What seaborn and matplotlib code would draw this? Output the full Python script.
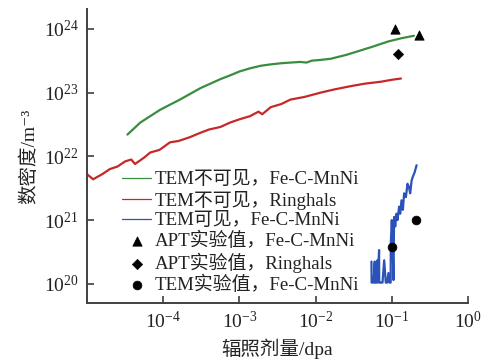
import numpy as np
import pandas as pd
import matplotlib
matplotlib.use("Agg")
import matplotlib.pyplot as plt
import seaborn as sns

# ---- data (log10 values) ----
green_logx = [-4.47, -4.30, -4.04, -3.78, -3.51, -3.38, -3.25, -3.12, -3.00, -2.86, -2.72, -2.60,
              -2.45, -2.33, -2.20, -2.12, -2.05, -1.95, -1.80, -1.60, -1.41, -1.25, -1.05,
              -0.88, -0.71]
green_logy = [22.34, 22.53, 22.73, 22.89, 23.07, 23.14, 23.21, 23.27, 23.33, 23.38, 23.42, 23.44,
              23.46, 23.47, 23.48, 23.47, 23.50, 23.51, 23.53, 23.59, 23.66, 23.72, 23.80,
              23.85, 23.89]

red_logx = [-5.00, -4.92, -4.80, -4.70, -4.60, -4.50, -4.42, -4.37, -4.25, -4.17, -4.05, -3.91,
            -3.80, -3.65, -3.51, -3.40, -3.25, -3.12, -3.00, -2.86, -2.75, -2.70, -2.59,
            -2.45, -2.33, -2.15, -1.93, -1.75, -1.54, -1.35, -1.14, -1.00, -0.88]
red_logy = [21.72, 21.64, 21.72, 21.80, 21.84, 21.92, 21.95, 21.88, 21.98, 22.06, 22.10, 22.22,
            22.24, 22.30, 22.37, 22.42, 22.46, 22.53, 22.58, 22.63, 22.70, 22.66, 22.77,
            22.82, 22.89, 22.93, 23.00, 23.05, 23.10, 23.14, 23.17, 23.20, 23.22]

blue_logx = [-1.267, -1.265, -1.240, -1.224, -1.222, -1.205, -1.188, -1.186, -1.167, -1.165,
             -1.145, -1.122, -1.100, -1.079, -1.060, -1.044, -1.030, -1.015, -1.013, -1.000,
             -0.990, -0.978, -0.970, -0.955, -0.939, -0.925, -0.904, -0.890, -0.873, -0.855,
             -0.838, -0.815, -0.794, -0.775, -0.759, -0.740, -0.724, -0.700, -0.675]
blue_logy = [20.35, 20.02, 20.02, 20.35, 20.02, 20.02, 20.37, 20.02, 20.53, 20.02,
             20.02, 20.02, 20.37, 20.02, 20.02, 20.17, 20.02, 20.02, 20.64, 21.00,
             20.64, 20.06, 21.05, 20.90, 21.10, 21.00, 21.21, 21.10, 21.31, 21.16,
             21.42, 21.36, 21.57, 21.52, 21.42, 21.62, 21.68, 21.75, 21.86]

apt_fe_x = [0.11, 0.226]
apt_fe_y = [1.0e24, 8.0e23]
apt_ring_x = [0.12]
apt_ring_y = [4.0e23]
tem_fe_x = [0.10, 0.21]
tem_fe_y = [3.8e20, 1.0e21]

labels = ["TEM不可见，Fe-C-MnNi", "TEM不可见，Ringhals", "TEM可见，Fe-C-MnNi",
          "APT实验值，Fe-C-MnNi", "APT实验值，Ringhals", "TEM实验值，Fe-C-MnNi"]
xticks = [1e-4, 1e-3, 1e-2, 1e-1, 1e0]
yticks = [1e20, 1e21, 1e22, 1e23, 1e24]

sns.set_theme(style="ticks")
plt.rcParams['font.family'] = ['Liberation Serif', 'Noto Sans CJK SC', 'DejaVu Sans']
plt.rcParams['mathtext.fontset'] = 'stix'
plt.rcParams['axes.unicode_minus'] = False

fig = plt.figure(figsize=(4.94, 3.63), dpi=100)
fig.patch.set_facecolor('white')
ax = fig.add_axes([87/494, 1-303/363, 381/494, 294/363])
ax.set_facecolor('white')

def df(lx, ly):
    return pd.DataFrame({"x": np.power(10.0, lx), "y": np.power(10.0, ly)})

sns.lineplot(data=df(green_logx, green_logy), x="x", y="y", ax=ax, color="#3a8c3f",
             lw=1.6, sort=False, label=labels[0])
sns.lineplot(data=df(red_logx, red_logy), x="x", y="y", ax=ax, color="#c62828",
             lw=1.6, sort=False, label=labels[1])
sns.lineplot(data=df(blue_logx, blue_logy), x="x", y="y", ax=ax, color="#2a52b8",
             lw=1.6, sort=False, label=labels[2])
sns.scatterplot(x=apt_fe_x, y=apt_fe_y, ax=ax, marker="^", color="black", s=45,
                edgecolor="black", label=labels[3], zorder=5)
sns.scatterplot(x=apt_ring_x, y=apt_ring_y, ax=ax, marker="D", color="black", s=28,
                edgecolor="black", label=labels[4], zorder=5)
sns.scatterplot(x=tem_fe_x, y=tem_fe_y, ax=ax, marker="o", color="black", s=40,
                edgecolor="black", label=labels[5], zorder=5)

ax.set_xscale("log")
ax.set_yscale("log")
ax.set_xlim(1e-5, 1.0)
ax.set_ylim(10**19.70, 10**24.31)
ax.set_xticks(xticks)
ax.set_yticks(yticks)
ax.minorticks_off()
ax.tick_params(axis='both', which='major', direction='in', length=5, width=1.2,
               color='#404040', labelsize=14, labelcolor='#222222', pad=6)
for s in ['top', 'right']:
    ax.spines[s].set_visible(False)
for s in ['left', 'bottom']:
    ax.spines[s].set_color('#404040')
    ax.spines[s].set_linewidth(1.4)

ax.set_xlabel("辐照剂量/dpa", fontsize=14, color='#222222', labelpad=4)
ax.set_ylabel("数密度/m⁻³", fontsize=14, color='#222222', labelpad=4)

handles, labs = ax.get_legend_handles_labels()
leg = ax.legend(handles, labs, loc='upper left',
                bbox_to_anchor=((122-87)/381, (303-171)/294), frameon=False,
                fontsize=13.6, handlelength=1.55, handletextpad=0.2, labelspacing=0.13,
                borderpad=0, borderaxespad=0)
for h in leg.legend_handles:
    if isinstance(h, matplotlib.lines.Line2D):
        h.set_linewidth(0.9)
for t in leg.get_texts():
    t.set_color('#222222')

fig.savefig("out.png", dpi=100, facecolor='white')
